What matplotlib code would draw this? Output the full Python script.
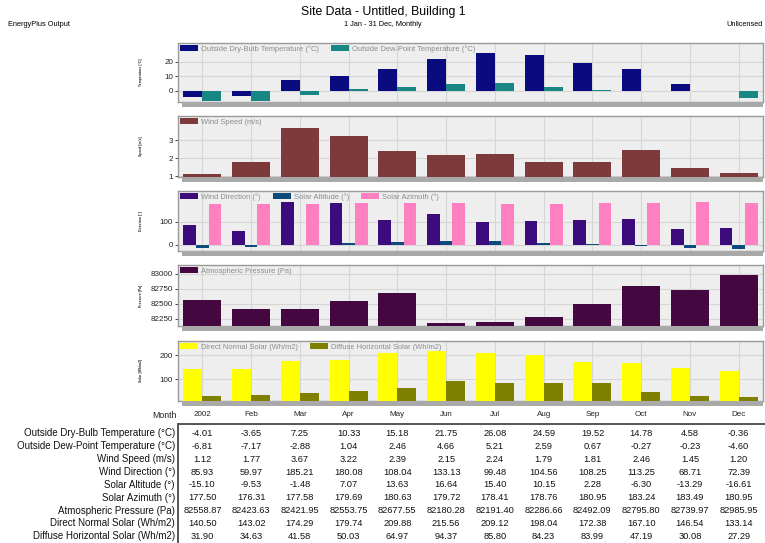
import numpy as np
import matplotlib
matplotlib.use("Agg")
import matplotlib.pyplot as plt
from matplotlib.patches import Rectangle
from matplotlib.lines import Line2D
import matplotlib.transforms as mtransforms

plt.rcParams['font.family'] = ['Liberation Sans', 'DejaVu Sans']

months = ['2002', 'Feb', 'Mar', 'Apr', 'May', 'Jun', 'Jul', 'Aug', 'Sep', 'Oct', 'Nov', 'Dec']

dry_bulb = [-4.01, -3.65, 7.25, 10.33, 15.18, 21.75, 26.08, 24.59, 19.52, 14.78, 4.58, -0.36]
dew_point = [-6.81, -7.17, -2.88, 1.04, 2.46, 4.66, 5.21, 2.59, 0.67, -0.27, -0.23, -4.60]
wind_speed = [1.12, 1.77, 3.67, 3.22, 2.39, 2.15, 2.24, 1.79, 1.81, 2.46, 1.45, 1.20]
wind_dir = [85.93, 59.97, 185.21, 180.08, 108.04, 133.13, 99.48, 104.56, 108.25, 113.25, 68.71, 72.39]
solar_alt = [-15.10, -9.53, -1.48, 7.07, 13.63, 16.64, 15.40, 10.15, 2.28, -6.30, -13.29, -16.61]
solar_az = [177.50, 176.31, 177.58, 179.69, 180.63, 179.72, 178.41, 178.76, 180.95, 183.24, 183.49, 180.95]
pressure = [82558.87, 82423.63, 82421.95, 82553.75, 82677.55, 82180.28, 82191.40, 82286.66,
            82492.09, 82795.80, 82739.97, 82985.95]
direct_solar = [140.50, 143.02, 174.29, 179.74, 209.88, 215.56, 209.12, 198.04, 172.38, 167.10, 146.54, 133.14]
diffuse_solar = [31.90, 34.63, 41.58, 50.03, 64.97, 94.37, 85.80, 84.23, 83.99, 47.19, 30.08, 27.29]

row_labels = ['Outside Dry-Bulb Temperature (°C)', 'Outside Dew-Point Temperature (°C)',
              'Wind Speed (m/s)', 'Wind Direction (°)', 'Solar Altitude (°)', 'Solar Azimuth (°)',
              'Atmospheric Pressure (Pa)', 'Direct Normal Solar (Wh/m2)', 'Diffuse Horizontal Solar (Wh/m2)']
row_values = [dry_bulb, dew_point, wind_speed, wind_dir, solar_alt, solar_az,
              pressure, direct_solar, diffuse_solar]

W, H = 765, 543
fig = plt.figure(figsize=(W / 100, H / 100), dpi=100)
fig.patch.set_facecolor('white')


def fx(px):
    return px / W


def fy(py):
    return 1 - py / H


# panel definitions: (top, bottom, series, colors, ylim, yticks, ylabel)
panels = [
    (43, 102, [('Outside Dry-Bulb Temperature (°C)', dry_bulb), ('Outside Dew-Point Temperature (°C)', dew_point)],
     ['#0b0b80', '#188783'], (-7.6, 33), [0, 10, 20], 'Temperature [°C]'),
    (116, 177, [('Wind Speed (m/s)', wind_speed)],
     ['#7d3a3a'], (0.95, 4.35), [1, 2, 3], 'Speed [m/s]'),
    (191, 251, [('Wind Direction (°)', wind_dir), ('Solar Altitude (°)', solar_alt), ('Solar Azimuth (°)', solar_az)],
     ['#3c0b7c', '#0c4a7c', '#ff80c0'], (-26, 233), [0, 100], 'Direction [°]'),
    (265, 326, [('Atmospheric Pressure (Pa)', pressure)],
     ['#45073f'], (82133, 83150), [82250, 82500, 82750, 83000], 'Pressure [Pa]'),
    (341, 401, [('Direct Normal Solar (Wh/m2)', direct_solar), ('Diffuse Horizontal Solar (Wh/m2)', diffuse_solar)],
     ['#ffff00', '#7f7f00'], (9.5, 258), [100, 200], 'Solar [Wh/m2]'),
]

left, right = 178, 763
x = np.arange(len(months))
axes = []
for top, bottom, series, colors, ylim, yticks, ylabel in panels:
    # shadow under the panel
    fig.patches.append(Rectangle((fx(left + 4), fy(bottom + 5)), fx(right - left - 4), 5 / H,
                                 transform=fig.transFigure, facecolor='#a9a9a9', edgecolor='none', zorder=0))
    ax = fig.add_axes([fx(left), fy(bottom), fx(right - left), (bottom - top) / H])
    ax.set_facecolor('#eeeeee')
    n = len(series)
    width = 0.78 / n
    is_pressure = series[0][0].startswith('Atmospheric')
    for i, ((label, vals), c) in enumerate(zip(series, colors)):
        offs = (i - (n - 1) / 2) * width
        if is_pressure:
            # pressure bars start at the axis floor
            ax.bar(x + offs, np.array(vals) - ylim[0], width, bottom=ylim[0], color=c, label=label, zorder=3)
        else:
            ax.bar(x + offs, vals, width, color=c, label=label, zorder=3)
    ax.set_xlim(-0.5, 11.5)
    ax.set_ylim(*ylim)
    ax.set_yticks(yticks)
    ax.set_xticks(x)
    ax.grid(True, color='#d6d6d6', lw=0.8, zorder=0)
    ax.tick_params(axis='y', labelsize=5.8, length=2, width=0.6, pad=1.5, colors='#222222')
    ax.tick_params(axis='x', length=0, labelbottom=False)
    for s in ax.spines.values():
        s.set_color('#9a9a9a')
        s.set_linewidth(1.0)
    ax.legend(loc='upper left', ncol=n, frameon=False, fontsize=5.4, labelcolor='#8c8c8c',
              handlelength=2.4, handleheight=0.9, handletextpad=0.4, columnspacing=1.6,
              borderaxespad=0.1, borderpad=0.2)
    fig.text(fx(141), fy((top + bottom) / 2), ylabel, rotation=90, fontsize=2.4,
             ha='center', va='center', color='#222222', fontweight='bold')
    axes.append(ax)

# month labels on the bottom panel
ax5 = axes[-1]
ax5.tick_params(axis='x', labelbottom=True, labelsize=5.8, pad=7, colors='#222222')
ax5.set_xticklabels(months)
fig.text(fx(177), fy(416), 'Month', fontsize=6.3, ha='right', va='center', color='#222222')

# header
fig.text(fx(383), fy(12), 'Site Data - Untitled, Building 1', fontsize=8.8, ha='center', va='center')
fig.text(fx(383), fy(24), '1 Jan - 31 Dec, Monthly', fontsize=5.3, ha='center', va='center')
fig.text(fx(8), fy(24), 'EnergyPlus Output', fontsize=5.3, ha='left', va='center')
fig.text(fx(763), fy(24), 'Unlicensed', fontsize=5.3, ha='right', va='center')

# table
fig.add_artist(Line2D([fx(left), 1], [fy(424), fy(424)], transform=fig.transFigure, color='#555555', lw=1.4))
fig.add_artist(Line2D([fx(left), fx(left)], [fy(424), 0], transform=fig.transFigure, color='#555555', lw=1.4))
trans = mtransforms.blended_transform_factory(ax5.transData, fig.transFigure)
for r, (lab, vals) in enumerate(zip(row_labels, row_values)):
    yy = fy(433.5 + r * 12.85)
    fig.text(fx(175), yy, lab, fontsize=7.0, ha='right', va='center', color='#111111')
    for i, v in enumerate(vals):
        fig.text(x[i], yy, f'{v:.2f}', fontsize=6.7, ha='center', va='center', color='#111111',
                 transform=trans)

fig.savefig('out.png', dpi=100)
